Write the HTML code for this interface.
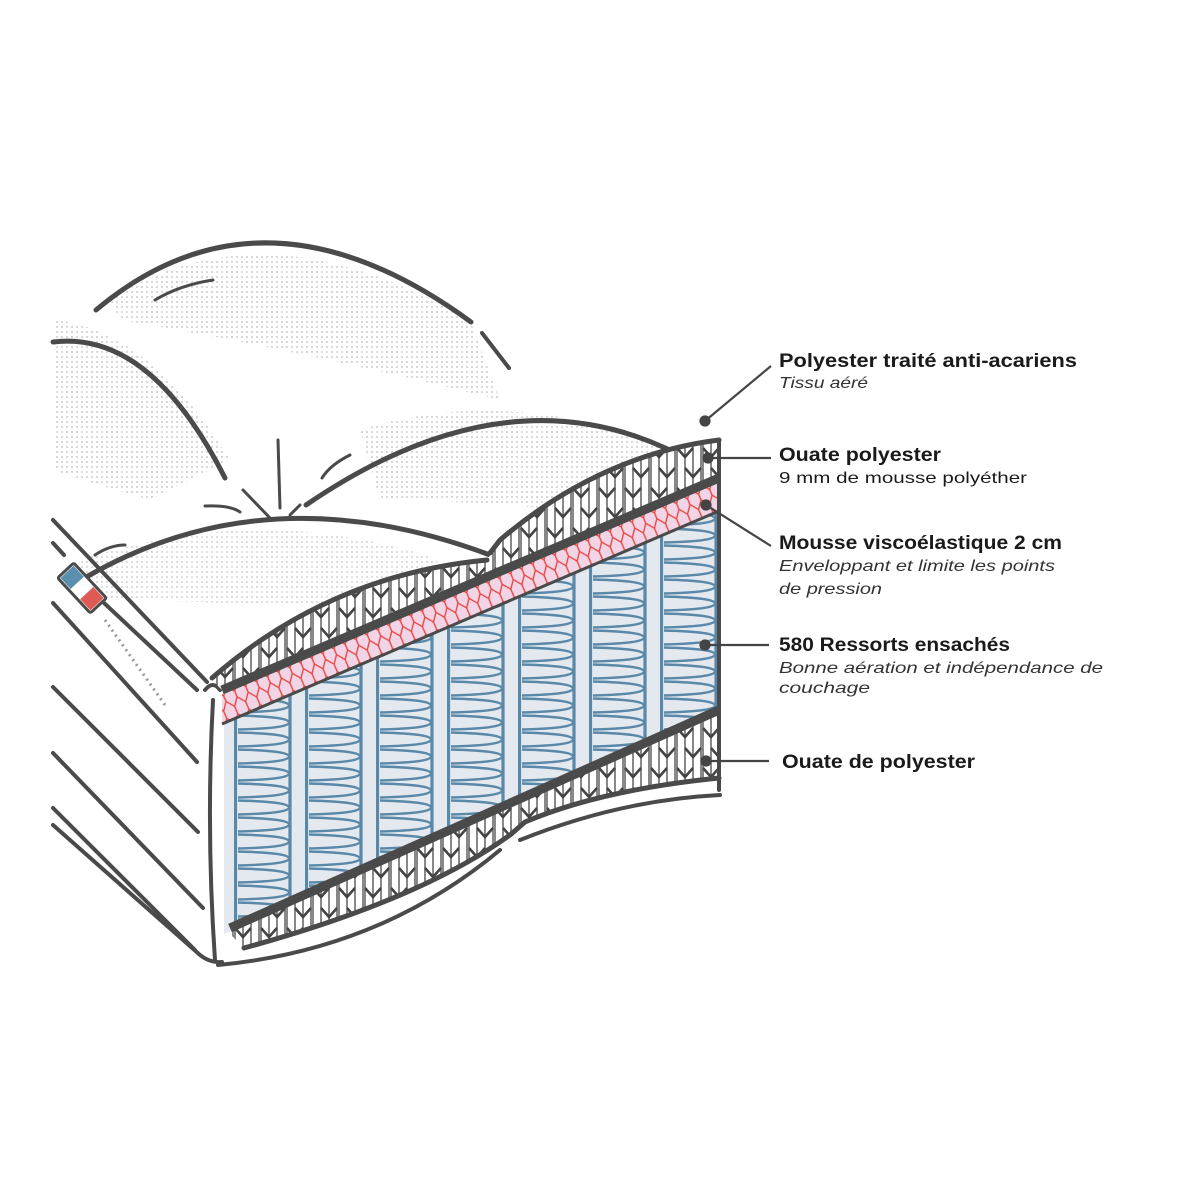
<!DOCTYPE html>
<html><head><meta charset="utf-8"><style>
html,body{margin:0;padding:0;background:#fff}
svg{display:block}
.t{font-family:"Liberation Sans",sans-serif;fill:#1a1a1a}
.b{font-weight:bold;font-size:19px}
.n{font-size:16px}
.i{font-style:italic;font-size:16px;fill:#333}
.o{fill:none;stroke:#4a4a4a;stroke-linecap:round}
</style></head><body>
<svg width="1200" height="1200" viewBox="0 0 1200 1200" xmlns="http://www.w3.org/2000/svg">
<defs>
<pattern id="dots" patternUnits="userSpaceOnUse" width="5" height="5"><circle cx="2" cy="2" r="0.9" fill="#a0a0a0"/></pattern>
<pattern id="chev" patternUnits="userSpaceOnUse" width="26" height="40">
<rect width="26" height="40" fill="#fff"/>
<path d="M1,0V40M9,0V40M17,0V40M25,0V40" stroke="#555" stroke-width="1.4"/>
<path d="M1,8L9,17L17,8M9,28L17,37L25,28" stroke="#444" stroke-width="2.6" fill="none"/>
</pattern>
<pattern id="pink" patternUnits="userSpaceOnUse" width="12" height="30" patternTransform="rotate(-23)">
<rect width="12" height="30" fill="#f1d4e6"/>
<path d="M0,0L6,8L6,14L0,22L0,30M12,0L6,8M6,14L12,22L12,30" stroke="#e8463f" stroke-width="1.4" fill="none"/>
</pattern>
<pattern id="spr" patternUnits="userSpaceOnUse" x="234" y="0" width="71" height="17">
<rect width="71" height="17" fill="#e3e9ef"/>
<path d="M1.5,0V17M56,0V17" stroke="#5a88a8" stroke-width="3.2"/>
<path d="M4,1.5 C42,2.5 55,5 55,8.5 C55,12 42,14.5 4,15.5" stroke="#5a88a8" stroke-width="2.4" fill="none"/>
</pattern>
</defs>

<!-- halftone areas -->
<path d="M110,300 Q263,200 470,320 L500,400 Q300,350 120,320Z" fill="url(#dots)" opacity="0.7"/>
<path d="M55,320 Q150,330 230,460 L150,500 Q80,480 55,470Z" fill="url(#dots)" opacity="0.7"/>
<path d="M360,430 Q520,380 700,460 L640,520 Q500,500 380,500Z" fill="url(#dots)" opacity="0.7"/>
<path d="M80,560 Q263,500 440,560 L380,610 Q200,600 80,600Z" fill="url(#dots)" opacity="0.6"/>

<!-- pillows -->
<path class="o" stroke-width="5" d="M96,310 Q263,170 471,322"/>
<path class="o" stroke-width="4" d="M482,333 L509,368"/>
<path class="o" stroke-width="3" d="M155,300 Q180,285 213,280"/>
<path class="o" stroke-width="5" d="M53,342 Q150,330 225,478"/>
<path class="o" stroke-width="5" d="M306,505 Q518,360 696,464"/>
<path class="o" stroke-width="3" d="M322,478 Q330,465 350,455"/>
<path class="o" stroke-width="3" d="M278,440 L280,508 M243,490 L270,518 M205,506 Q230,505 240,512 M290,515 L300,505"/>
<path class="o" stroke-width="5" d="M78,582 Q263,470 490,555"/>
<path class="o" stroke-width="3" d="M95,555 Q110,545 125,545"/>

<!-- left side face -->
<g class="o" stroke-width="4">
<path d="M53,520 L207,682"/>
<path d="M53,543 L64,555 M103,602 L197,690"/>
<path d="M53,603 L197,762"/>
<path d="M53,687 L198,832"/>
<path d="M53,753 L203,908"/>
<path d="M53,808 L195,950"/>
<path d="M53,825 L200,955 Q210,963 222,962"/>
<path d="M213,700 Q206,830 215,960"/>
<path d="M205,690 Q213,680 220,690"/>
</g>
<g transform="translate(82,588) rotate(47)">
<rect x="-24" y="-11" width="48" height="22" rx="2" fill="#fff" stroke="#4a4a4a" stroke-width="3"/>
<rect x="-22" y="-9" width="15" height="18" fill="#5b8fae"/>
<rect x="7" y="-9" width="15" height="18" fill="#e05a55"/>
</g>
<path d="M105,620 L165,705" stroke="#999" stroke-width="3" stroke-dasharray="2 4"/>

<!-- cross-section -->
<path d="M212,680 Q330,575 487,560 L500,540 Q600,455 719,440 L719,478 L222,690 Z" fill="url(#chev)"/>
<path d="M222,694 L719,482 L719,511 L222,724 Z" fill="url(#pink)"/>
<path d="M224,722 L719,511 L719,712 L224,934 Z" fill="url(#spr)"/>
<path d="M228,932 L719,712 L719,778 Q600,790 525,822 L510,835 Q420,900 244,948 Z" fill="url(#chev)"/>
<path d="M222,724 L719,511" stroke="#4a4a4a" stroke-width="3"/>
<path d="M222,690 L719,478" stroke="#4a4a4a" stroke-width="9"/>
<path d="M230,928 L719,710" stroke="#4a4a4a" stroke-width="9"/>
<path class="o" stroke-width="5" d="M212,678 Q330,575 487,560 M490,553 L500,540 Q600,455 719,440"/>
<path class="o" stroke-width="5" d="M244,948 Q420,900 510,835 L525,822 Q600,790 719,778"/>
<path class="o" stroke-width="4" d="M218,965 Q380,950 500,850 M520,840 Q620,800 720,795"/>
<path class="o" stroke-width="4" d="M719,440 V790"/>

<!-- leaders -->
<g stroke="#444" stroke-width="2.2" fill="#444">
<line x1="705" y1="421" x2="771" y2="366"/><circle cx="705" cy="421" r="4.5"/>
<line x1="708" y1="458" x2="771" y2="458"/><circle cx="708" cy="458" r="4.5"/>
<line x1="706" y1="505" x2="771" y2="546"/><circle cx="706" cy="505" r="4.5"/>
<line x1="705" y1="645" x2="769" y2="645"/><circle cx="705" cy="645" r="4.5"/>
<line x1="706" y1="761" x2="769" y2="761"/><circle cx="706" cy="761" r="4.5"/>
</g>

<!-- labels -->
<text class="t b" x="779" y="367" textLength="298" lengthAdjust="spacingAndGlyphs">Polyester traité anti-acariens</text>
<text class="t i" x="779" y="388" textLength="89" lengthAdjust="spacingAndGlyphs">Tissu aéré</text>
<text class="t b" x="779" y="461" textLength="162" lengthAdjust="spacingAndGlyphs">Ouate polyester</text>
<text class="t n" x="779" y="483" textLength="248" lengthAdjust="spacingAndGlyphs">9 mm de mousse polyéther</text>
<text class="t b" x="779" y="549" textLength="283" lengthAdjust="spacingAndGlyphs">Mousse viscoélastique 2 cm</text>
<text class="t i" x="779" y="571" textLength="276" lengthAdjust="spacingAndGlyphs">Enveloppant et limite les points</text>
<text class="t i" x="779" y="594" textLength="103" lengthAdjust="spacingAndGlyphs">de pression</text>
<text class="t b" x="779" y="651" textLength="231" lengthAdjust="spacingAndGlyphs">580 Ressorts ensachés</text>
<text class="t i" x="779" y="673" textLength="324" lengthAdjust="spacingAndGlyphs">Bonne aération et indépendance de</text>
<text class="t i" x="779" y="693" textLength="91" lengthAdjust="spacingAndGlyphs">couchage</text>
<text class="t b" x="782" y="768" textLength="193" lengthAdjust="spacingAndGlyphs">Ouate de polyester</text>
</svg>
</body></html>
